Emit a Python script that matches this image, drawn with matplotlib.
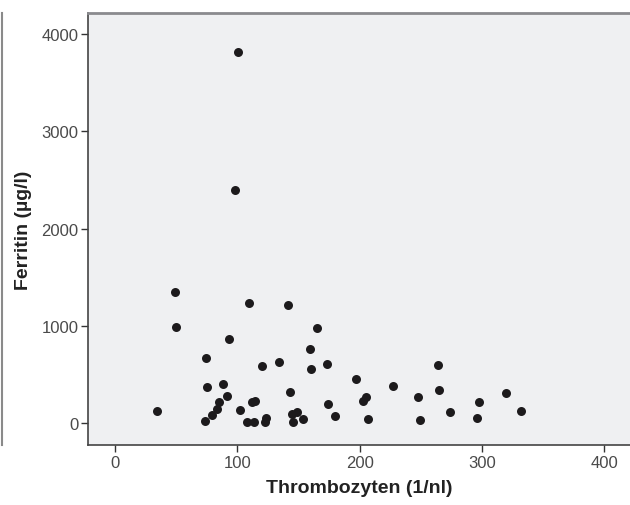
import matplotlib.pyplot as plt
from matplotlib.lines import Line2D

plt.rcParams['font.family'] = ['Liberation Sans', 'DejaVu Sans']

# Thrombozyten (1/nl) vs Ferritin (µg/l)
thrombo = [34.1, 48.9, 49.7, 73.2, 74.2, 75.3, 79.1, 83.0, 85.1, 87.9,
           91.2, 93.0, 98.2, 100.2, 102.3, 108.0, 109.2, 111.6, 113.5, 114.6,
           120.0, 122.3, 123.1, 134.2, 141.1, 143.0, 144.6, 145.7, 148.4, 153.4,
           159.1, 160.1, 165.1, 173.5, 174.1, 180.0, 197.0, 203.0, 205.2, 207.0,
           227.2, 248.0, 249.1, 264.1, 265.1, 274.1, 296.2, 297.4, 320.0, 332.0]
ferritin = [123, 1349, 983, 24, 668, 370, 82, 144, 219, 398,
            274, 866, 2395, 3816, 137, 13, 1230, 219, 13, 226,
            586, 7, 54, 627, 1216, 319, 89, 13, 110, 41,
            760, 552, 973, 610, 192, 75, 452, 223, 264, 38,
            384, 271, 27, 600, 343, 113, 55, 216, 305, 123]

xticks = [0, 100, 200, 300, 400]
yticks = [0, 1000, 2000, 3000, 4000]

fig = plt.figure(figsize=(6.3, 5.06), dpi=100)
ax = fig.add_axes([0.1397, 0.119, 0.8603, 0.853])
ax.set_facecolor('#eff0f2')

ax.scatter(thrombo, ferritin, s=42, color='#1c1a1c', zorder=3, linewidths=0)

ax.set_xlim(-22.3, 421.2)
ax.set_ylim(-223, 4214)
ax.set_xticks(xticks)
ax.set_yticks(yticks)
ax.tick_params(direction='out', length=5, width=1, color='#333333',
               labelcolor='#4a4a4a', labelsize=12, pad=2)

for side in ['left', 'bottom']:
    ax.spines[side].set_color('#444444')
    ax.spines[side].set_linewidth(1.2)
ax.spines['top'].set_color('#8a8a8e')
ax.spines['top'].set_linewidth(2)
ax.spines['right'].set_visible(False)

ax.set_xlabel('Thrombozyten (1/nl)', fontsize=14, fontweight='bold', color='#222222')
ax.set_ylabel('Ferritin (µg/l)', fontsize=14, fontweight='bold', color='#222222')
ax.xaxis.set_label_coords(0.5, -0.08)
ax.yaxis.set_label_coords(-0.104, 0.5)

# thin frame line on the far left
fig.add_artist(Line2D([0.003, 0.003], [0.119, 0.972], transform=fig.transFigure,
                      color='#8a8a8a', linewidth=1.5))

fig.savefig('out.png', dpi=100)
